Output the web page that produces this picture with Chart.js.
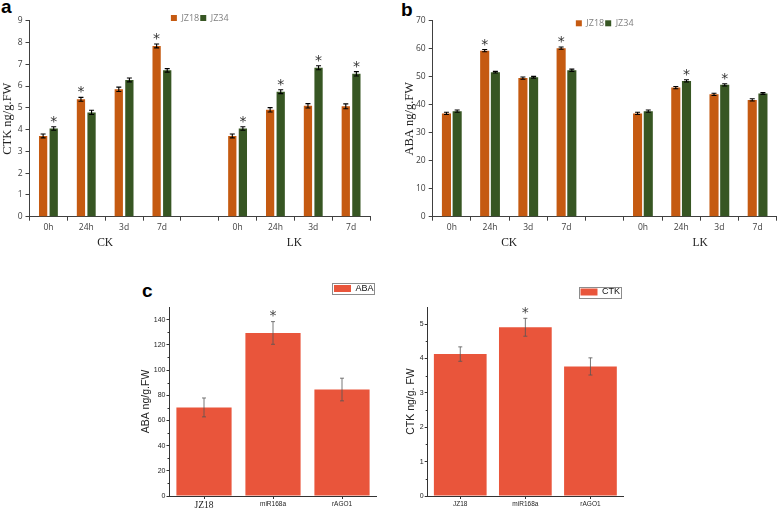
<!DOCTYPE html>
<html><head><meta charset="utf-8">
<script src="https://cdn.jsdelivr.net/npm/chart.js@4.4.1/dist/chart.umd.min.js"></script>
<style>
html,body{margin:0;padding:0;background:#fff;width:778px;height:512px;overflow:hidden;}
.box{position:absolute;}
.tag{position:absolute;font-family:'Liberation Sans',Arial,sans-serif;font-weight:bold;font-size:19px;line-height:19px;color:#000;}
</style></head><body>
<div class="tag" style="left:1px;top:-3px">a</div>
<div class="tag" style="left:401px;top:0px">b</div>
<div class="tag" style="left:142px;top:281px">c</div>
<div class="box" style="left:0;top:0;width:390px;height:255px"><canvas id="ca"></canvas></div>
<div class="box" style="left:390px;top:0;width:388px;height:255px"><canvas id="cb"></canvas></div>
<div class="box" style="left:140px;top:276px;width:240px;height:236px"><canvas id="cc"></canvas></div>
<div class="box" style="left:390px;top:276px;width:240px;height:236px"><canvas id="cd"></canvas></div>
<script>
// ---------- data ----------
const timeCats = ['0h','24h','3d','7d','','0h','24h','3d','7d'];
const groupNames = ['CK','LK'];
const groupFrom = [0,5];
const groupTo = [3,8];
const seriesNames = ['JZ18','JZ34'];

const ctkJZ18 = [3.71,5.39,5.85,7.84,null,3.71,4.91,5.09,5.07];
const ctkJZ34 = [4.05,4.79,6.28,6.72,null,4.05,5.74,6.84,6.56];
const ctkErr18 = [0.09,0.09,0.10,0.09,null,0.09,0.10,0.10,0.11];
const ctkErr34 = [0.08,0.10,0.09,0.08,null,0.08,0.09,0.09,0.10];
const ctkStar18 = [0,1,0,1,0,0,0,0,0];
const ctkStar34 = [1,0,0,0,0,1,1,1,1];
const ctkRange = [0,9,1];

const abaJZ18 = [36.9,59.3,49.5,60.2,null,36.9,46.1,43.7,41.7];
const abaJZ34 = [37.7,51.6,49.8,52.3,null,37.7,48.5,47.1,44.0];
const abaErr18 = [0.4,0.4,0.4,0.4,null,0.4,0.4,0.4,0.4];
const abaErr34 = [0.4,0.3,0.3,0.4,null,0.4,0.4,0.4,0.3];
const abaStar18 = [0,1,0,1,0,0,0,0,0];
const abaStar34 = [0,0,0,0,0,0,1,1,0];
const abaRange = [0,70,10];

const lineCats = ['JZ18','miR168a','rAGO1'];
const abaLine = [70.3,129.4,84.5];
const abaLineErr = [7.5,9.0,9.0];
const abaLineStar = [0,1,0];
const abaLineRange = [0,150,20];
const ctkLine = [4.13,4.91,3.77];
const ctkLineErr = [0.21,0.26,0.25];
const ctkLineStar = [0,1,0];
const ctkLineRange = [0,5.5,1];

// ---------- colours ----------
const ORANGE = '#c55a11', GREEN = '#375623', RED = '#e9553b';
const AX = '#404040';

// ---------- plugins ----------
const errStar = {
  id:'errStar',
  afterDatasetsDraw(chart, args, o){
    const ctx = chart.ctx, y = chart.scales.y;
    chart.data.datasets.forEach((ds, di) => {
      const meta = chart.getDatasetMeta(di);
      meta.data.forEach((bar, i) => {
        const v = ds.data[i]; if (v == null) return;
        const e = ds.errors ? ds.errors[i] : 0;
        const yt = y.getPixelForValue(v + e), yb = y.getPixelForValue(v - e);
        ctx.save();
        ctx.strokeStyle = o.color; ctx.lineWidth = o.width;
        ctx.beginPath();
        ctx.moveTo(bar.x, yt); ctx.lineTo(bar.x, yb);
        ctx.moveTo(bar.x - o.cap, yt); ctx.lineTo(bar.x + o.cap, yt);
        ctx.moveTo(bar.x - o.cap, yb); ctx.lineTo(bar.x + o.cap, yb);
        ctx.stroke();
        if (ds.stars && ds.stars[i]) {
          ctx.fillStyle = o.starColor; ctx.font = o.starFont;
          ctx.textAlign = 'center'; ctx.textBaseline = 'alphabetic';
          ctx.fillText('*', bar.x, yt - o.starGap);
        }
        ctx.restore();
      });
    });
  }
};
const legendFix = {
  id:'legendFix',
  afterInit(chart, args, o){
    const lg = chart.legend; if (!lg) return;
    const f = lg.fit.bind(lg);
    lg.fit = function(){ f(); this.height = chart.options.plugins.legendFix.height; };
    lg.draw = function(){ if (this.options.display) this._draw(); };
  }
};
const groupLabels = {
  id:'groupLabels',
  afterDraw(chart, args, o){
    if (!o.show) return;
    const ctx = chart.ctx, x = chart.scales.x;
    ctx.save(); ctx.font = o.font; ctx.fillStyle = o.color;
    ctx.textAlign = 'center'; ctx.textBaseline = 'middle';
    groupNames.forEach((g, i) => {
      const px = (x.getPixelForValue(groupFrom[i]) + x.getPixelForValue(groupTo[i])) / 2;
      ctx.fillText(g, px, o.y);
    });
    ctx.restore();
  }
};
const minorTicks = {
  id:'minorTicks',
  afterDraw(chart, args, o){
    if (!o.show) return;
    const ctx = chart.ctx, y = chart.scales.y;
    ctx.save(); ctx.strokeStyle = o.color; ctx.lineWidth = 1; ctx.beginPath();
    for (let v = o.major / 2; v < y.max - 1e-9; v += o.major) {
      const py = Math.round(y.getPixelForValue(v)) + 0.5;
      ctx.moveTo(y.right - o.len, py); ctx.lineTo(y.right, py);
    }
    ctx.stroke(); ctx.restore();
  }
};
const legendFrame = {
  id:'legendFrame',
  afterDraw(chart, args, o){
    if (!o.show) return;
    const hb = chart.legend && chart.legend.legendHitBoxes;
    if (!hb || !hb.length) return;
    const b = hb[0], ctx = chart.ctx;
    ctx.save(); ctx.strokeStyle = o.color; ctx.lineWidth = 1;
    ctx.strokeRect(Math.round(b.left - o.padL) + 0.5, Math.round(b.top - o.padT) + 0.5,
                   Math.round(b.width + o.padL + o.padR), Math.round(b.height + 2 * o.padT));
    ctx.restore();
  }
};

Chart.defaults.animation = false;
Chart.defaults.devicePixelRatio = 1;
Chart.defaults.responsive = true;
Chart.defaults.maintainAspectRatio = false;

function groupedChart(id, d18, d34, e18, e34, s18, s34, range, title, o) {
  const tickFont = {family:"'Open Sans', sans-serif", size:8.5};
  return new Chart(document.getElementById(id), {
    type:'bar',
    data:{
      labels: timeCats,
      datasets:[
        {label:seriesNames[0], data:d18, errors:e18, stars:s18, backgroundColor:ORANGE, borderWidth:0,
         categoryPercentage:0.56, barPercentage:o.barPct},
        {label:seriesNames[1], data:d34, errors:e34, stars:s34, backgroundColor:GREEN, borderWidth:0,
         categoryPercentage:0.56, barPercentage:o.barPct}
      ]
    },
    plugins:[errStar, legendFix, groupLabels, minorTicks, legendFrame],
    options:{
      layout:{padding:{top:o.padTop, left:0, right:o.padRight, bottom:0}},
      plugins:{
        legend:{display:true, position:'top', align:'center', fullSize:false,
          labels:{boxWidth:6, boxHeight:6, padding:1, color:'#7f7f7f',
                  font:{family:"'Open Sans', sans-serif", size:9}}},
        tooltip:{enabled:false},
        legendFix:{height:o.legendH},
        errStar:{color:'#000', width:1.1, cap:2.5, starColor:'#333', starFont:"14px 'DejaVu Sans'", starGap:1},
        groupLabels:{show:true, font:"11.5px 'Liberation Serif'", color:'#222', y:243},
        minorTicks:{show:false},
        legendFrame:{show:false}
      },
      scales:{
        x:{type:'category', offset:true,
           grid:{offset:true, drawOnChartArea:false, drawTicks:true, tickLength:4, color:AX},
           border:{display:true, color:AX},
           ticks:{font:tickFont, color:AX, padding:2, autoSkip:false, maxRotation:0},
           afterFit:s => { s.height = o.xH; }},
        y:{min:range[0], max:range[1],
           ticks:{stepSize:range[2], font:tickFont, color:AX, padding:3},
           grid:{drawOnChartArea:false, drawTicks:true, tickLength:4, color:AX},
           border:{display:true, color:AX},
           title:{display:true, text:title, color:'#222',
                  font:{family:"'Liberation Serif', serif", size:12.5}, padding:{top:o.titlePad, bottom:0}},
           afterFit:s => { s.width = o.yW; }}
      }
    }
  });
}

groupedChart('ca', ctkJZ18, ctkJZ34, ctkErr18, ctkErr34, ctkStar18, ctkStar34, ctkRange, 'CTK ng/g.FW',
  {barPct:0.78, padTop:12.5, legendH:8.2, padRight:20, xH:38.3, yW:29.5, titlePad:0.5});
groupedChart('cb', abaJZ18, abaJZ34, abaErr18, abaErr34, abaStar18, abaStar34, abaRange, 'ABA ng/g.FW',
  {barPct:0.85, padTop:17.8, legendH:2.9, padRight:1.3, xH:38.3, yW:42.7, titlePad:12});

function singleChart(id, vals, errs, stars, range, title, legendName, o) {
  const sans = "'Liberation Sans', Arial, sans-serif";
  return new Chart(document.getElementById(id), {
    type:'bar',
    data:{
      labels: lineCats,
      datasets:[{label:legendName, data:vals, errors:errs, stars:stars, backgroundColor:RED, borderWidth:0,
                 categoryPercentage:1, barPercentage:o.barPct}]
    },
    plugins:[errStar, legendFix, groupLabels, minorTicks, legendFrame],
    options:{
      layout:{padding:{top:o.padTop, left:0, right:o.padRight, bottom:0}},
      plugins:{
        legend:{display:true, position:'top', align:'end', fullSize:false,
          labels:{boxWidth:17, boxHeight:7, padding:3, color:'#111', font:{family:sans, size:9}}},
        tooltip:{enabled:false},
        legendFix:{height:o.legendH},
        errStar:{color:'#555', width:0.8, cap:2, starColor:'#444', starFont:"14px 'DejaVu Sans'", starGap:1.5},
        groupLabels:{show:false},
        minorTicks:{show:true, major:range[2], len:2, color:'#333'},
        legendFrame:{show:true, color:'#8c8c8c', padL:2, padR:0, padT:1}
      },
      scales:{
        x:{type:'category', offset:true,
           grid:{offset:false, drawOnChartArea:false, drawTicks:true, tickLength:3, color:'#333'},
           border:{display:true, color:'#333'},
           ticks:{color:'#222', padding:1, autoSkip:false, maxRotation:0,
                  font:(c) => (o.serifFirst && c.index === 0) ? {family:"'Liberation Serif', serif", size:9.5} : {family:sans, size:6.5}},
           afterFit:s => { s.height = 16; }},
        y:{min:range[0], max:range[1],
           ticks:{stepSize:range[2], font:{family:sans, size:7}, color:'#222', padding:1},
           afterBuildTicks:s => { s.ticks = s.ticks.filter(t => Math.abs(t.value / range[2] - Math.round(t.value / range[2])) < 1e-6); },
           grid:{drawOnChartArea:false, drawTicks:true, tickLength:3, color:'#333'},
           border:{display:true, color:'#333'},
           title:{display:true, text:title, color:'#222', font:{family:sans, size:10.5}, padding:{top:o.titlePad, bottom:0}},
           afterFit:s => { s.width = o.yW; }}
      }
    }
  });
}

singleChart('cc', abaLine, abaLineErr, abaLineStar, abaLineRange, 'ABA ng/g.FW', 'ABA',
  {barPct:0.8, padTop:5, legendH:26, padRight:3.5, yW:29.5, titlePad:0, serifFirst:true});
singleChart('cd', ctkLine, ctkLineErr, ctkLineStar, ctkLineRange, 'CTK ng/g. FW', 'CTK',
  {barPct:0.81, padTop:8.5, legendH:22.5, padRight:7, yW:37.7, titlePad:15, serifFirst:false});
</script>
</body></html>
